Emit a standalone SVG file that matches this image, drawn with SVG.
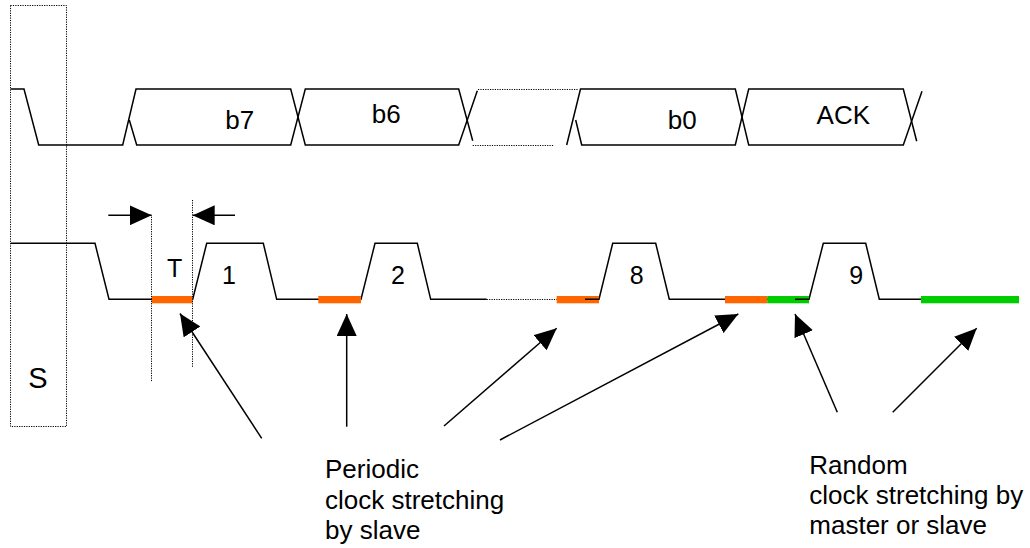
<svg xmlns="http://www.w3.org/2000/svg" width="1030" height="548" viewBox="0 0 1030 548">
<style>
.sig{fill:none;stroke:#000;stroke-width:1.5;stroke-linejoin:miter}
.dot{fill:none;stroke:#000;stroke-width:1;stroke-dasharray:1.2 1.2}
.ptr{fill:none;stroke:#000;stroke-width:1.5;marker-end:url(#ah)}
.or{fill:#FF6600}
.gr{fill:#00CC00}
.lbl{font-family:"Liberation Sans",Arial,sans-serif;font-size:26px;fill:#000}
.num{font-family:"Liberation Sans",Arial,sans-serif;font-size:25px;fill:#000;text-anchor:middle}
.big{font-family:"Liberation Sans",Arial,sans-serif;font-size:26px;fill:#000;text-anchor:middle}
</style>
<defs>
<marker id="ah" markerUnits="userSpaceOnUse" markerWidth="22" markerHeight="20" refX="22" refY="10" orient="auto">
<path d="M0,0 L22,10 L0,20 Z" fill="#000"/>
</marker>
</defs>
<g id="start-box">
<rect class="dot" x="10.5" y="5.5" width="56" height="421"/>
<text class="big" x="38" y="388" style="font-size:29px">S</text>
</g>
<g id="data-line">
<path class="sig" d="M10.7,89 H24 L38.7,145 H122.7 L136,89 H290.7 L305.3,145 H458.7 L477.3,90.7"/>
<path class="sig" d="M129.3,120 L136.7,145 H290.7 L305.3,89 H458.7 L472.7,140.7"/>
<path class="dot" d="M478,89.5 H578.3 M472.7,145.5 H553.3"/>
<path class="sig" d="M566.7,145 L580.5,89 H735.3 L748.7,145 H903.3 L922,91.3"/>
<path class="sig" d="M575.7,120 L581.7,145 H735.3 L748.7,89 H903.3 L916.7,141.3"/>
</g>
<g id="bit-labels">
<text class="big" x="239.7" y="129">b7</text>
<text class="big" x="386.3" y="123.3">b6</text>
<text class="big" x="682.2" y="129.3">b0</text>
<text class="big" x="843.3" y="124">ACK</text>
</g>
<g id="clock-line">
<path class="sig" d="M10.7,243.3 H95 L109,299.3 H192.7 L206.7,243.3 H263.3 L276.7,299.3 H361 L375,243.3 H417.3 L430.7,299.3 H486.7"/>
<path class="dot" d="M486.7,299.5 H556.7"/>
<path class="sig" d="M556.7,299.3 H599 L612.7,243.3 H655.7 L669.3,299.3 H809 L823.3,243.3 H865.7 L879.3,299.3 H921"/>
<rect class="or" x="151.7" y="296" width="41" height="7.3"/>
<rect class="or" x="318.3" y="296" width="42.7" height="7.3"/>
<rect class="or" x="556.7" y="296" width="42.3" height="7.3"/>
<rect class="or" x="725" y="296" width="42.3" height="7.3"/>
<rect class="gr" x="767.3" y="296" width="41.7" height="7.3"/>
<rect class="gr" x="921" y="296" width="98" height="7.3"/>
<path class="sig" d="M585,299.3 H599 M795,299.3 H809"/>
</g>
<g id="clock-labels">
<text class="num" x="174.7" y="277.3">T</text>
<text class="num" x="229" y="284">1</text>
<text class="num" x="398" y="284.3">2</text>
<text class="num" x="636.7" y="284">8</text>
<text class="num" x="856.3" y="284">9</text>
</g>
<g id="t-marker">
<path class="dot" d="M151.5,216.7 V381 M192.5,200 V367.7"/>
<line class="ptr" x1="108.3" y1="215.3" x2="151.7" y2="215.3"/>
<line class="ptr" x1="235" y1="215.3" x2="192.7" y2="215.3"/>
</g>
<g id="connectors">
<line class="ptr" x1="261.7" y1="438.3" x2="180" y2="313.5"/>
<line class="ptr" x1="346.7" y1="426.7" x2="346.7" y2="314"/>
<line class="ptr" x1="444" y1="426" x2="556.7" y2="328.3"/>
<line class="ptr" x1="500" y1="440" x2="738.3" y2="314"/>
<line class="ptr" x1="837.3" y1="412.3" x2="795" y2="314"/>
<line class="ptr" x1="892.7" y1="412.3" x2="976.7" y2="328.3"/>
</g>
<g id="periodic-label">
<text class="lbl" x="325" y="478.3">Periodic</text>
<text class="lbl" x="325" y="509.3">clock stretching</text>
<text class="lbl" x="325" y="539.3">by slave</text>
</g>
<g id="random-label">
<text class="lbl" x="809.3" y="473.5">Random</text>
<text class="lbl" x="809.3" y="504">clock stretching by</text>
<text class="lbl" x="809.3" y="533.5">master or slave</text>
</g>
</svg>
